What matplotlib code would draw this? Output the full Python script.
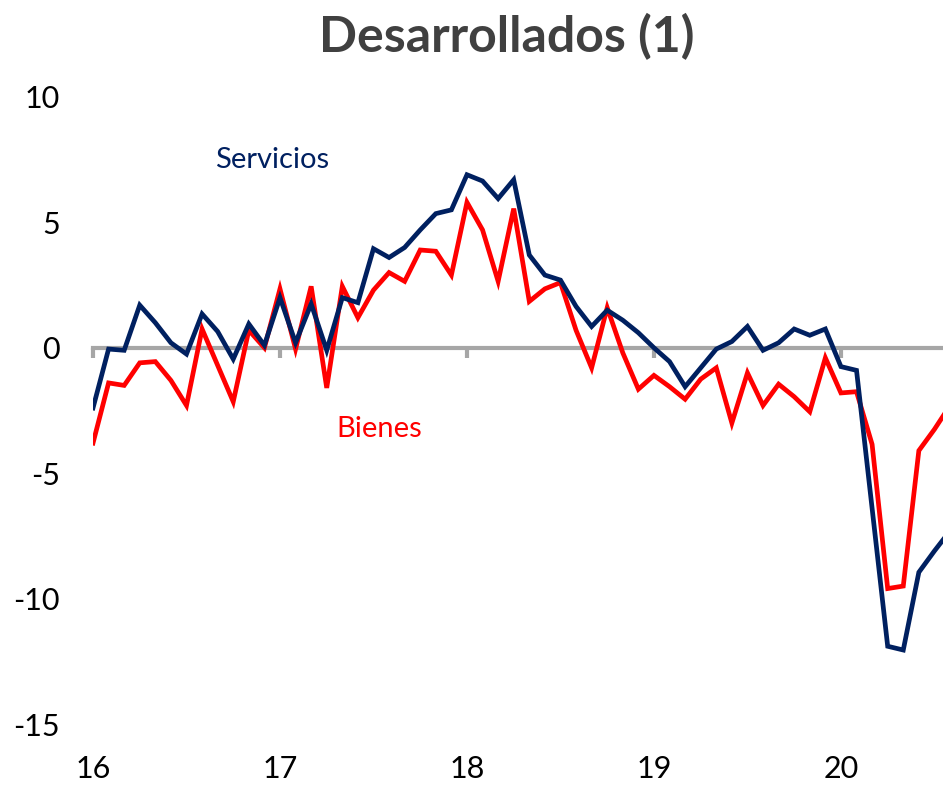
import numpy as np
import matplotlib
matplotlib.use("Agg")
import matplotlib.pyplot as plt

plt.rcParams['font.family'] = ['Lato', 'DejaVu Sans']

# monthly values, Jan 2016 onwards
servicios = [-2.4, -0.05, -0.1, 1.7, 1.0, 0.2, -0.25, 1.35, 0.65, -0.45, 0.95, 0.1,
             2.0, 0.2, 1.75, -0.1, 2.0, 1.8, 3.95, 3.6, 4.0, 4.7, 5.35, 5.5,
             6.9, 6.65, 5.95, 6.7, 3.7, 2.9, 2.7, 1.65, 0.85, 1.5, 1.1, 0.6,
             0.0, -0.55, -1.55, -0.8, -0.05, 0.25, 0.85, -0.1, 0.2, 0.75, 0.5, 0.75,
             -0.75, -0.9, -6.4, -11.9, -12.05, -8.95, -8.1, -7.3]
bienes = [-3.8, -1.4, -1.5, -0.6, -0.55, -1.3, -2.3, 0.75, -0.7, -2.15, 0.7, 0.0,
          2.35, -0.05, 2.45, -1.6, 2.45, 1.2, 2.3, 3.0, 2.65, 3.9, 3.85, 2.9,
          5.8, 4.7, 2.65, 5.55, 1.85, 2.35, 2.6, 0.7, -0.8, 1.6, -0.2, -1.65,
          -1.1, -1.55, -2.05, -1.25, -0.8, -3.0, -1.0, -2.3, -1.45, -1.95, -2.55, -0.4,
          -1.8, -1.75, -3.85, -9.6, -9.5, -4.1, -3.25, -2.3]
years = [16, 17, 18, 19, 20]
year_labels = ['16', '17', '18', '19', '20']
yticks = [10, 5, 0, -5, -10, -15]

x = 16 + np.arange(len(servicios)) / 12

fig = plt.figure(figsize=(9.43, 7.87), dpi=100)
ax = fig.add_axes([93/943, 1 - 724/787, 850/943, 627/787])

ax.plot(x, bienes, color='#FF0000', lw=3.4, solid_joinstyle='miter', zorder=3)
ax.plot(x, servicios, color='#002060', lw=3.4, solid_joinstyle='miter', zorder=4)

ax.set_xlim(16, 16 + 54.55/12)
ax.set_ylim(-15, 10)

for s in ['top', 'right', 'left']:
    ax.spines[s].set_visible(False)
ax.spines['bottom'].set_position(('data', 0))
ax.spines['bottom'].set_color('#A6A6A6')
ax.spines['bottom'].set_linewidth(3)
ax.spines['bottom'].set_zorder(2)
ax.set_xticks(years)
ax.tick_params(axis='x', direction='out', length=7, width=3, color='#A6A6A6', labelbottom=False)

sec = ax.secondary_xaxis('bottom')
sec.set_xticks(years, year_labels)
sec.spines['bottom'].set_visible(False)
sec.tick_params(axis='x', length=0, pad=22, labelsize=22)

ax.set_yticks(yticks, [str(v) for v in yticks])
ax.tick_params(axis='y', length=0, pad=24, labelsize=22)

ax.text(16.65, 7.17, 'Servicios', color='#002060', fontsize=21)
ax.text(17.30, -3.55, 'Bienes', color='#FF0000', fontsize=21)

fig.text(0.537, 0.953, 'Desarrollados (1)', ha='center', va='center',
         fontsize=36, fontweight='bold', color='#404040')

fig.savefig('out.png', dpi=100)
